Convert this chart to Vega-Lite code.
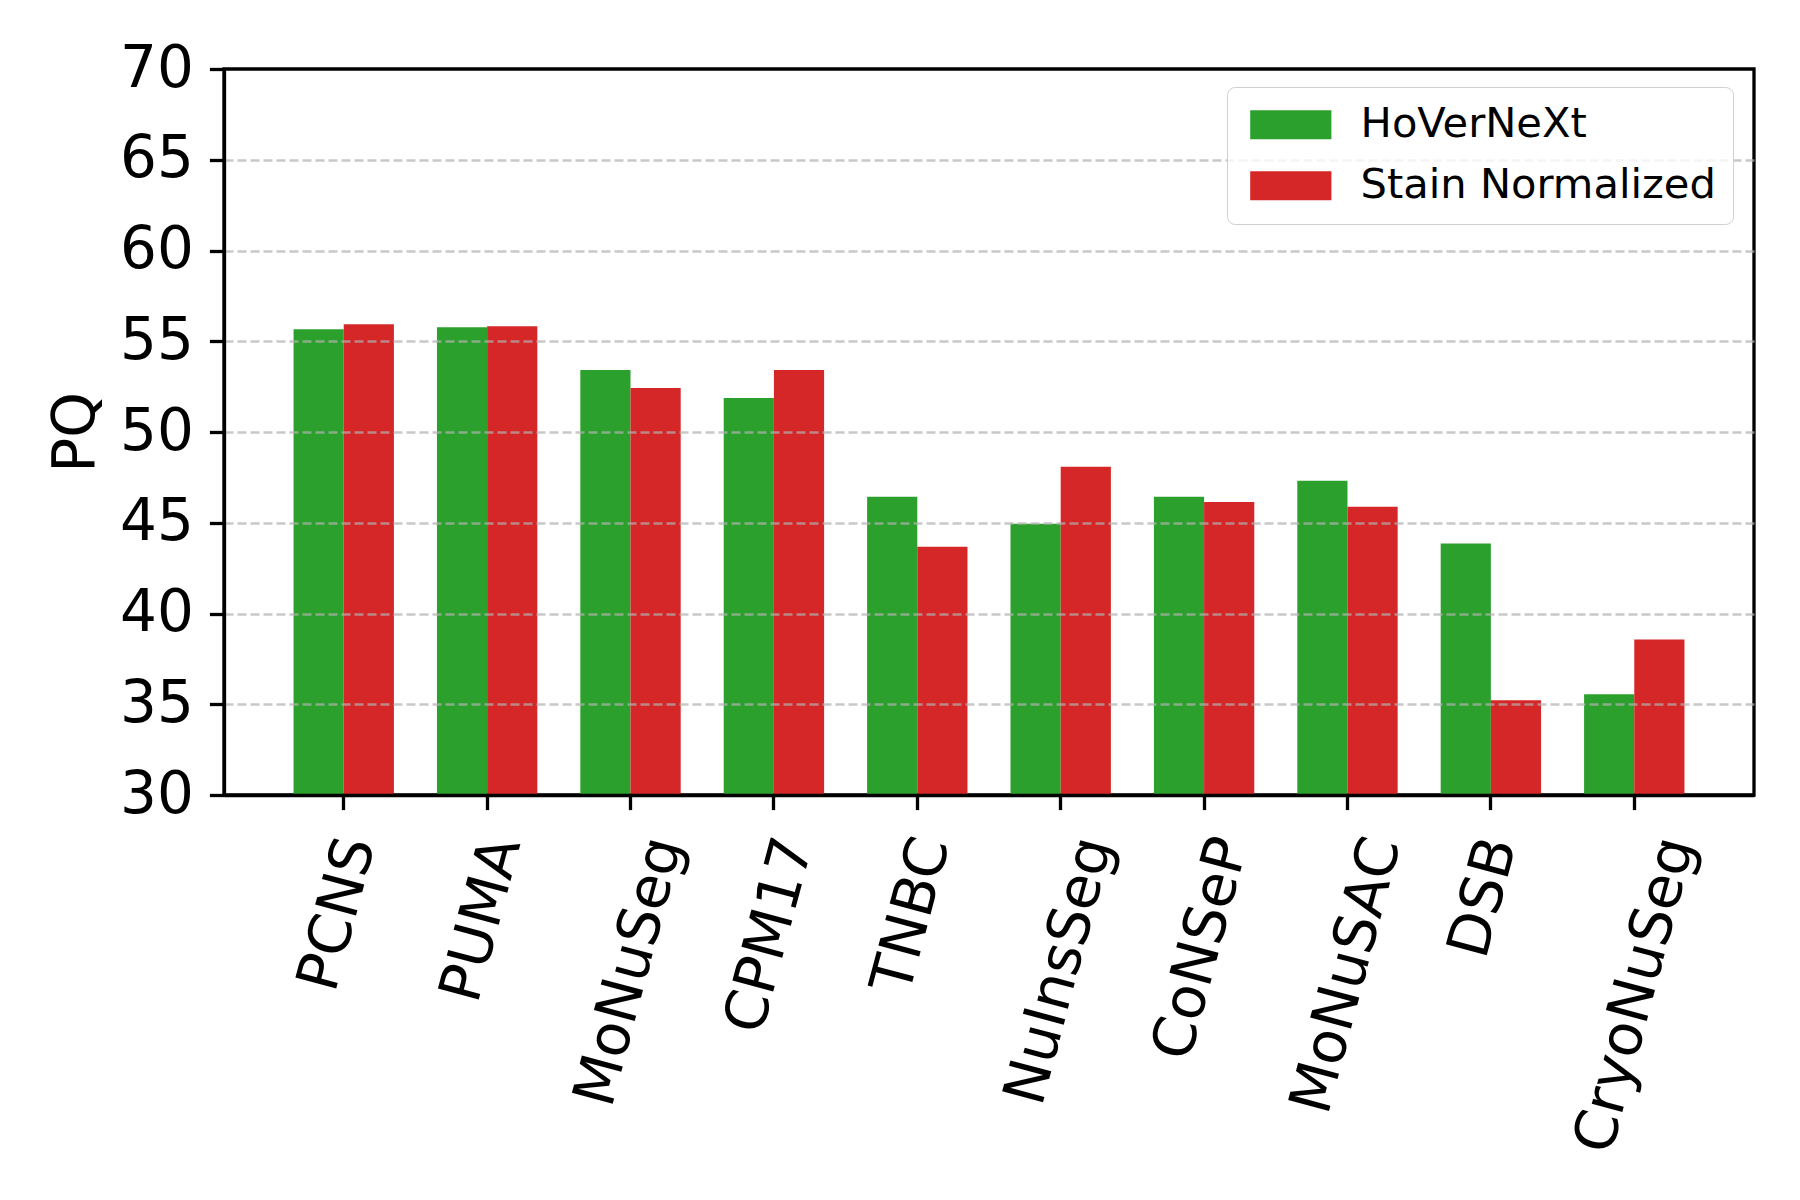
{
  "$schema": "https://vega.github.io/schema/vega-lite/v6.json",
  "width": 1530,
  "height": 726,
  "autosize": {"type": "none"},
  "padding": {"left": 224, "top": 69, "right": 46, "bottom": 405},
  "background": "white",
  "config": {
    "font": "DejaVu Sans",
    "view": {"stroke": "black", "strokeWidth": 3.3},
    "axis": {"labelFont": "DejaVu Sans", "titleFont": "DejaVu Sans", "labelColor": "black", "titleColor": "black", "domainColor": "black", "domainWidth": 3.3, "tickColor": "black", "tickWidth": 3.3, "tickSize": 14.6, "labelLimit": 0}
  },
  "data": {
    "values": [
      {"dataset": "PCNS", "method": "HoVerNeXt", "pq": 55.66},
      {"dataset": "PCNS", "method": "Stain Normalized", "pq": 55.93},
      {"dataset": "PUMA", "method": "HoVerNeXt", "pq": 55.77},
      {"dataset": "PUMA", "method": "Stain Normalized", "pq": 55.82},
      {"dataset": "MoNuSeg", "method": "HoVerNeXt", "pq": 53.41},
      {"dataset": "MoNuSeg", "method": "Stain Normalized", "pq": 52.42},
      {"dataset": "CPM17", "method": "HoVerNeXt", "pq": 51.87},
      {"dataset": "CPM17", "method": "Stain Normalized", "pq": 53.41},
      {"dataset": "TNBC", "method": "HoVerNeXt", "pq": 46.43},
      {"dataset": "TNBC", "method": "Stain Normalized", "pq": 43.68},
      {"dataset": "NuInsSeg", "method": "HoVerNeXt", "pq": 44.95},
      {"dataset": "NuInsSeg", "method": "Stain Normalized", "pq": 48.08},
      {"dataset": "CoNSeP", "method": "HoVerNeXt", "pq": 46.43},
      {"dataset": "CoNSeP", "method": "Stain Normalized", "pq": 46.15},
      {"dataset": "MoNuSAC", "method": "HoVerNeXt", "pq": 47.31},
      {"dataset": "MoNuSAC", "method": "Stain Normalized", "pq": 45.88},
      {"dataset": "DSB", "method": "HoVerNeXt", "pq": 43.85},
      {"dataset": "DSB", "method": "Stain Normalized", "pq": 35.22},
      {"dataset": "CryoNuSeg", "method": "HoVerNeXt", "pq": 35.55},
      {"dataset": "CryoNuSeg", "method": "Stain Normalized", "pq": 38.57}
    ]
  },
  "mark": {"type": "bar", "clip": true},
  "encoding": {
    "x": {
      "field": "dataset",
      "type": "nominal",
      "sort": null,
      "scale": {"paddingInner": 0.3, "paddingOuter": 0.485},
      "axis": {
        "title": null,
        "zindex": 1,
        "grid": false,
        "labelFontSize": 58,
        "labelAngle": -75,
        "labelAlign": "right",
        "labelBaseline": "middle",
        "labelPadding": 29,
        "labelOverlap": false,
        "labelLimit": 0,
        "labelOffset": {
          "condition": [
            {"test": "datum.value === 'PCNS'", "value": 15},
            {"test": "datum.value === 'PUMA'", "value": 17},
            {"test": "datum.value === 'MoNuSeg'", "value": 35.4},
            {"test": "datum.value === 'CPM17'", "value": 22.5},
            {"test": "datum.value === 'TNBC'", "value": 15.7},
            {"test": "datum.value === 'NuInsSeg'", "value": 35.1},
            {"test": "datum.value === 'CoNSeP'", "value": 27.2},
            {"test": "datum.value === 'MoNuSAC'", "value": 36.7},
            {"test": "datum.value === 'DSB'", "value": 9.3},
            {"test": "datum.value === 'CryoNuSeg'", "value": 43.7}
          ],
          "value": 0
        }
      }
    },
    "xOffset": {
      "field": "method",
      "type": "nominal",
      "scale": {"paddingInner": 0, "paddingOuter": 0}
    },
    "y": {
      "field": "pq",
      "type": "quantitative",
      "scale": {"domain": [30, 70], "nice": false, "zero": false},
      "axis": {
        "title": "PQ",
        "titleFontSize": 58,
        "titleFontWeight": "normal",
        "titlePadding": 14,
        "values": [30, 35, 40, 45, 50, 55, 60, 65, 70],
        "labelFontSize": 58,
        "labelPadding": 16,
        "zindex": 1,
        "grid": true,
        "gridColor": "#b0b0b0",
        "gridOpacity": {"condition": {"test": "datum.value === 30 || datum.value === 70", "value": 0}, "value": 0.7},
        "gridWidth": 2.5,
        "gridDash": [9, 4]
      }
    },
    "color": {
      "field": "method",
      "type": "nominal",
      "scale": {"domain": ["HoVerNeXt", "Stain Normalized"], "range": ["#2ca02c", "#d62728"]},
      "legend": {
        "title": null,
        "orient": "none",
        "legendX": 1003,
        "legendY": 18,
        "zindex": 2,
        "labelFont": "DejaVu Sans",
        "labelFontSize": 41.6,
        "labelColor": "black",
        "labelLimit": 0,
        "symbolType": "M-2.8,-1H2.8V1H-2.8Z",
        "symbolSize": 841,
        "symbolStrokeWidth": 0,
        "symbolOpacity": 1,
        "symbolOffset": 26,
        "labelOffset": 49,
        "rowPadding": 18,
        "padding": 17,
        "fillColor": "rgba(255,255,255,0.8)",
        "strokeColor": "#d0d0d0",
        "cornerRadius": 8
      }
    }
  }
}
